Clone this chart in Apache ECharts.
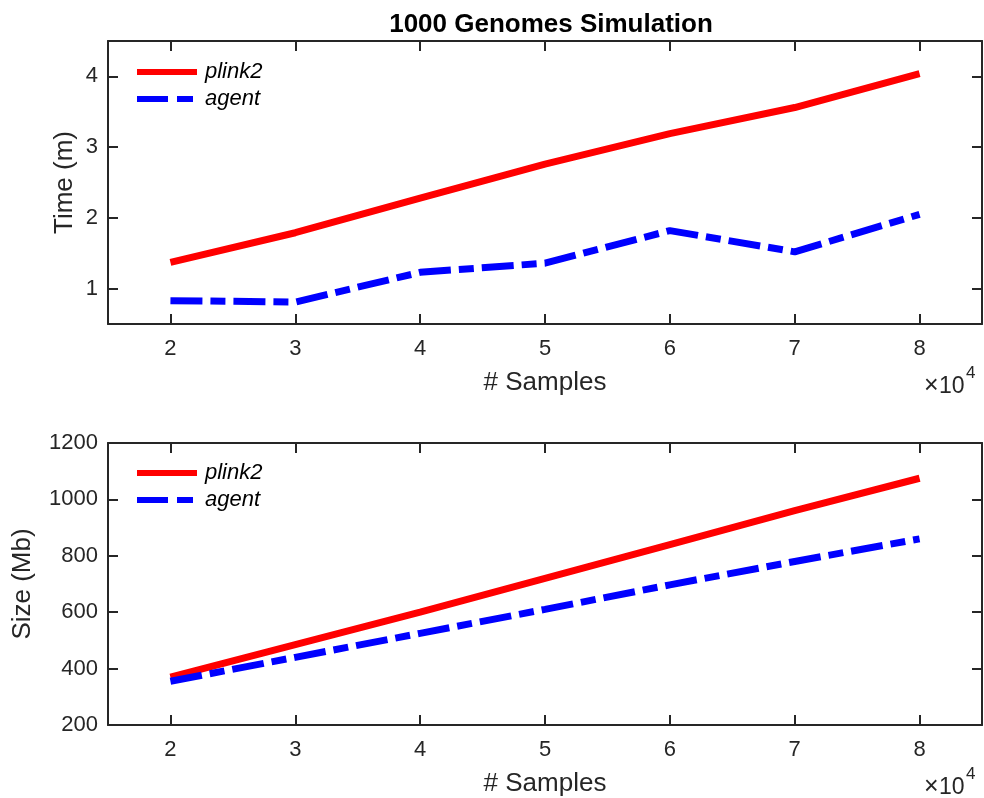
<!DOCTYPE html>
<html><head><meta charset="utf-8">
<script src="https://cdn.jsdelivr.net/npm/echarts@6/dist/echarts.min.js"></script>
<style>html,body{margin:0;padding:0;background:#fff}#c{width:984px;height:798px}</style>
</head><body><div id="c"></div>
<script>
// x values in units of 10^4 samples
const samples = [2, 3, 4, 5, 6, 7, 8];
const xTicks = [2, 3, 4, 5, 6, 7, 8];
const timePlink2 = [1.37, 1.79, 2.28, 2.76, 3.19, 3.56, 4.04];
const timeAgent = [0.83, 0.81, 1.23, 1.36, 1.82, 1.52, 2.05];
const timeTicks = [1, 2, 3, 4];
const sizePlink2 = [370, 485, 600, 720, 840, 960, 1075];
const sizeAgent = [355, 440, 525, 610, 697, 780, 860];

const FONT = 'Liberation Sans, Arial, Helvetica, sans-serif';
const AX = '#262626';
const pairs = (xs, ys) => xs.map((x, i) => [x, ys[i]]);

function xAx(grid, pos, show) {
  return {
    type: 'value', gridIndex: grid, position: pos, min: 1.5, max: 8.5,
    axisLine: {show: true, onZero: false, lineStyle: {color: AX, width: 2}},
    axisTick: {show: true, inside: true, length: 10, customValues: xTicks, lineStyle: {color: AX, width: 2}},
    axisLabel: {show: show, customValues: xTicks, color: AX, fontSize: 22, fontFamily: FONT, margin: 14},
    splitLine: {show: false},
    name: show ? '# Samples' : '', nameLocation: 'middle', nameGap: 46,
    nameTextStyle: {color: AX, fontSize: 26, fontFamily: FONT}
  };
}
function yAx(grid, pos, show, opts) {
  return Object.assign({
    type: 'value', gridIndex: grid, position: pos,
    axisLine: {show: true, onZero: false, lineStyle: {color: AX, width: 2}},
    splitLine: {show: false},
    nameLocation: 'middle', nameMoveOverlap: false,
    nameTextStyle: {color: AX, fontSize: 26, fontFamily: FONT}
  }, opts, {
    axisLabel: Object.assign({show: show, color: AX, fontSize: 22, fontFamily: FONT, margin: 10,
      formatter: v => String(v)}, opts.axisLabel || {}),
    axisTick: Object.assign({show: true, inside: true, length: 10, lineStyle: {color: AX, width: 2}}, opts.axisTick || {})
  });
}

const redStyle = {color: '#ff0000', width: 7, type: 'solid', cap: 'butt'};
const blueStyle = {color: '#0000ff', width: 7, type: [32, 8, 15, 8], cap: 'butt'};
const redIcon = 'path://M0,0h60v6h-60z';
const blueIcon = 'path://M0,0h31v6h-31z M40,0h16v6h-16z M59.9,0h0.1v0.1h-0.1z';

function legend(top, names) {
  return {
    left: 132, top: top, orient: 'vertical', itemWidth: 60, itemHeight: 6, itemGap: 5,
    textStyle: {color: '#000', fontSize: 22, fontStyle: 'italic', fontFamily: FONT, padding: [0, 0, 0, 3]},
    data: [{name: names[0], icon: redIcon}, {name: names[1], icon: blueIcon}]
  };
}

const option = {
  animation: false,
  title: {text: '1000 Genomes Simulation', left: 546, textAlign: 'center', top: 7,
    textStyle: {color: '#000', fontSize: 26, fontWeight: 'bold', fontFamily: FONT}},
  grid: [
    {left: 108, top: 41, width: 874, height: 283},
    {left: 108, top: 443, width: 874, height: 282}
  ],
  xAxis: [xAx(0, 'bottom', true), xAx(0, 'top', false), xAx(1, 'bottom', true), xAx(1, 'top', false)],
  yAxis: [
    yAx(0, 'left', true, {min: 0.5, max: 4.5, name: 'Time (m)', nameGap: 30,
      axisLabel: {customValues: timeTicks}, axisTick: {customValues: timeTicks}}),
    yAx(0, 'right', false, {min: 0.5, max: 4.5,
      axisLabel: {customValues: timeTicks}, axisTick: {customValues: timeTicks}}),
    yAx(1, 'left', true, {min: 200, max: 1200, interval: 200, name: 'Size (Mb)', nameGap: 72}),
    yAx(1, 'right', false, {min: 200, max: 1200, interval: 200})
  ],
  legend: [legend(56, ['plink2', 'agent']), legend(457, ['plink2 ', 'agent '])],
  series: [
    {name: 'plink2', type: 'line', xAxisIndex: 0, yAxisIndex: 0, data: pairs(samples, timePlink2),
      showSymbol: false, symbol: 'none', lineStyle: redStyle, itemStyle: {color: '#ff0000'}, z: 3},
    {name: 'agent', type: 'line', xAxisIndex: 0, yAxisIndex: 0, data: pairs(samples, timeAgent),
      showSymbol: false, symbol: 'none', lineStyle: blueStyle, itemStyle: {color: '#0000ff'}, z: 3},
    {name: 'plink2 ', type: 'line', xAxisIndex: 2, yAxisIndex: 2, data: pairs(samples, sizePlink2),
      showSymbol: false, symbol: 'none', lineStyle: redStyle, itemStyle: {color: '#ff0000'}, z: 3},
    {name: 'agent ', type: 'line', xAxisIndex: 2, yAxisIndex: 2, data: pairs(samples, sizeAgent),
      showSymbol: false, symbol: 'none', lineStyle: blueStyle, itemStyle: {color: '#0000ff'}, z: 4}
  ],
  graphic: [
    {type: 'text', left: 924, top: 374, style: {text: '×', fill: AX, font: '25px ' + FONT}},
    {type: 'text', left: 939, top: 375, style: {text: '10', fill: AX, font: '23px ' + FONT}},
    {type: 'text', left: 966, top: 365, style: {text: '4', fill: AX, font: '17px ' + FONT}},
    {type: 'text', left: 924, top: 775, style: {text: '×', fill: AX, font: '25px ' + FONT}},
    {type: 'text', left: 939, top: 776, style: {text: '10', fill: AX, font: '23px ' + FONT}},
    {type: 'text', left: 966, top: 766, style: {text: '4', fill: AX, font: '17px ' + FONT}}
  ]
};
const chart = echarts.init(document.getElementById('c'), null, {renderer: 'canvas'});
chart.setOption(option);
</script></body></html>
